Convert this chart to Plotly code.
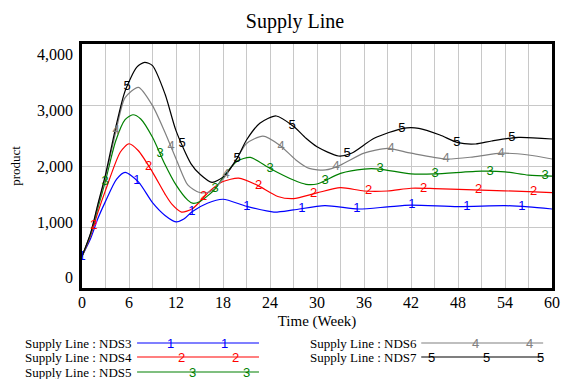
import numpy as np
import plotly.graph_objects as go

# ---------------- data ----------------
t_nds3 = [0, 1.1, 2, 3, 4.4, 5.5, 7.2, 9, 10.6, 12, 13, 14.1, 16, 18, 21, 24.5, 27, 31, 35.3, 39, 42, 48, 54, 57, 60]
v_nds3 = [520, 810, 1130, 1420, 1780, 1895, 1740, 1400, 1190, 1085, 1130, 1255, 1390, 1455, 1340, 1245, 1280, 1350, 1295, 1330, 1360, 1335, 1350, 1330, 1295]

t_nds4 = [0, 1.1, 2, 3, 4.9, 6, 7.2, 9, 10.6, 11.5, 12.7, 14.1, 16.4, 18, 20, 22.3, 25, 27, 30, 33, 36, 39, 42, 45, 51, 57, 60]
v_nds4 = [520, 860, 1230, 1600, 2230, 2365, 2250, 1900, 1540, 1370, 1245, 1300, 1600, 1745, 1800, 1690, 1500, 1465, 1560, 1645, 1590, 1590, 1635, 1630, 1605, 1580, 1565]

t_nds5 = [0, 1.1, 2, 3, 4.3, 5.5, 6.5, 7.5, 9, 10.5, 12, 13.5, 14.1, 15, 16.9, 18.1, 19.8, 21.5, 24, 27, 28.6, 30, 33, 36, 38, 42, 45, 51, 54, 57, 60]
v_nds5 = [520, 880, 1300, 1760, 2410, 2760, 2840, 2770, 2470, 2050, 1690, 1440, 1390, 1415, 1610, 1830, 2080, 2140, 1960, 1770, 1700, 1705, 1880, 1950, 1950, 1870, 1870, 1915, 1905, 1850, 1835]

t_nds6 = [0, 1.1, 2, 3, 4.3, 5.5, 7.2, 9, 10.6, 12, 13.5, 15, 16.4, 18.1, 19.8, 21, 23.1, 25.2, 27.3, 29, 31.1, 33, 36, 39, 42, 46.5, 50, 53.6, 57, 60]
v_nds6 = [520, 890, 1340, 1820, 2550, 3120, 3290, 2990, 2550, 2120, 1690, 1565, 1580, 1800, 2130, 2370, 2490, 2345, 2100, 1960, 1935, 2015, 2210, 2290, 2210, 2115, 2150, 2210, 2180, 2115]

t_nds7 = [0, 1.1, 2, 3, 4.3, 5.5, 7, 8, 9, 10.6, 12, 13.9, 15.1, 16.6, 18.1, 19.8, 21, 22.7, 24.8, 27, 28.6, 30, 32.75, 34.4, 37.3, 41, 43, 45.7, 48, 50.25, 52.3, 55.7, 60]
v_nds7 = [520, 900, 1360, 1860, 2630, 3230, 3620, 3700, 3645, 3180, 2580, 2040, 1860, 1730, 1830, 2126, 2426, 2700, 2820, 2650, 2454, 2316, 2164, 2208, 2454, 2618, 2618, 2508, 2382, 2361, 2410, 2470, 2443]

series_names = ["Supply Line : NDS3", "Supply Line : NDS4", "Supply Line : NDS5",
                "Supply Line : NDS6", "Supply Line : NDS7"]
series_digits = ["1", "2", "3", "4", "5"]
x_ticks = [0, 6, 12, 18, 24, 30, 36, 42, 48, 54, 60]
y_ticks = [0, 1000, 2000, 3000, 4000]
y_tick_labels = ["0", "1,000", "2,000", "3,000", "4,000"]

# ---------------- style ----------------
colors = ["#0000ff", "#ff0000", "#008000", "#808080", "#000000"]
SERIF = "Liberation Serif"
SANS = "Liberation Sans"
marker_start = [0, 1.5, 2.95, 4.35, 5.75]
marker_step = 7.02

W_FIG, H_FIG = 569, 379
L, R, T, B = 82, 560, 44, 288


def px(x):
    return (x - L) / (R - L)


def py(y):
    return (B - y) / (B - T)


ts = [t_nds3, t_nds4, t_nds5, t_nds6, t_nds7]
vs = [v_nds3, v_nds4, v_nds5, v_nds6, v_nds7]

fig = go.Figure()
for name, t, v, c in zip(series_names, ts, vs, colors):
    fig.add_trace(go.Scatter(x=t, y=v, mode="lines", name=name,
                             line=dict(color=c, width=1.2, shape="spline", smoothing=0.7),
                             showlegend=False, hoverinfo="skip"))

# numbered markers on the lines
for d, t, v, c, s in zip(series_digits, ts, vs, colors, marker_start):
    mx = np.arange(s, 60.01, marker_step)
    my = np.interp(mx, t, v)
    fig.add_trace(go.Scatter(x=mx, y=my, mode="text", text=[d] * len(mx),
                             textposition="middle center",
                             textfont=dict(family=SANS, size=13, color=c),
                             cliponaxis=False, showlegend=False, hoverinfo="skip"))

# empty trace to carry the label axis
fig.add_trace(go.Scatter(x=[None], y=[None], yaxis="y2", showlegend=False, hoverinfo="skip"))

grid = "#c8c8c8"
fig.update_layout(
    width=W_FIG, height=H_FIG,
    margin=dict(l=L, r=W_FIG - R, t=T, b=H_FIG - B),
    paper_bgcolor="white", plot_bgcolor="white",
    showlegend=False,
    font=dict(family=SERIF, color="black"),
    title=dict(text="Supply Line", x=295 / W_FIG, xanchor="center",
               y=1 - 21 / H_FIG, yanchor="middle", yref="container", xref="container",
               font=dict(family=SERIF, size=20, color="black")),
    xaxis=dict(range=[0, 60], tickvals=x_ticks, showgrid=True, gridcolor=grid, gridwidth=1,
               minor=dict(dtick=3, showgrid=True, gridcolor=grid, gridwidth=1),
               showline=True, linecolor="black", linewidth=2.5, mirror=True,
               zeroline=False, ticks="", ticklabelstandoff=-2,
               tickfont=dict(family=SERIF, size=16, color="black"),
               title=dict(text="Time (Week)", font=dict(family=SERIF, size=15, color="black"), standoff=6)),
    yaxis=dict(range=[0, 4000], tickvals=y_ticks, showticklabels=False, showgrid=True,
               gridcolor=grid, gridwidth=1, showline=True, linecolor="black", linewidth=2.5,
               mirror=True, zeroline=False, ticks=""),
    yaxis2=dict(overlaying="y", side="left", anchor="x", range=[-182, 4182],
                tickvals=y_ticks, ticktext=y_tick_labels, showgrid=False, showline=False,
                zeroline=False, ticks="", ticklabelstandoff=8,
                tickfont=dict(family=SERIF, size=16, color="black"),
                title=dict(text="product", font=dict(family=SERIF, size=13, color="black"), standoff=13)),
)

# ---------------- custom legend ----------------
legend_rows = [(0, 22.5, 343, 138, 262, [172, 227]),
               (1, 22.5, 357, 138, 262, [183, 238]),
               (2, 22.5, 372, 138, 262, [194, 249.5]),
               (3, 312, 343, 427, 551, [482, 537.5]),
               (4, 312, 357, 427, 551, [437, 493, 548])]
for i, tx, ty, x0, x1, dxs in legend_rows:
    fig.add_annotation(x=px(tx), y=py(ty), xref="paper", yref="paper", text=series_names[i],
                       showarrow=False, xanchor="left", yanchor="middle",
                       font=dict(family=SERIF, size=13, color="black"))
    fig.add_shape(type="line", xref="paper", yref="paper", x0=px(x0), x1=px(x1),
                  y0=py(ty), y1=py(ty), line=dict(color=colors[i], width=1.2))
    for dx in dxs:
        fig.add_annotation(x=px(dx), y=py(ty), xref="paper", yref="paper", text=series_digits[i],
                           showarrow=False, xanchor="center", yanchor="middle",
                           font=dict(family=SANS, size=13, color=colors[i]))

fig.write_html("out.html")
